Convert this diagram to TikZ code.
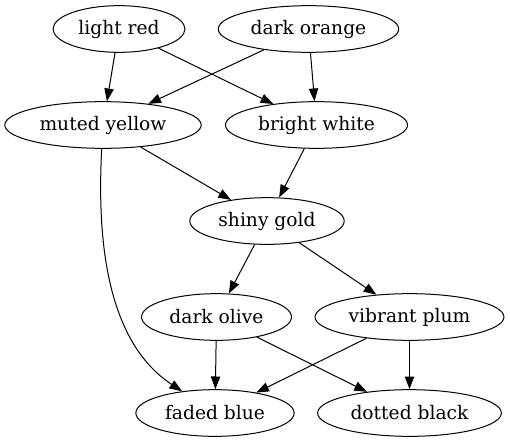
\documentclass[tikz,border=0pt]{standalone}
\usepackage{fontspec}
\setmainfont{DejaVu Serif}
\usetikzlibrary{shapes.geometric,arrows.meta}
\begin{document}
\begin{tikzpicture}[x=0.75pt,y=-0.75pt,>={Triangle[length=9.5pt,width=7pt]},line width=0.75pt,
        bag/.style={draw,ellipse,inner xsep=4.5pt,minimum height=35pt,font=\fontsize{14}{16}\selectfont},
        edge/.style={->}]
        \useasboundingbox (0,0) rectangle (510,443);
        \node[bag] (lr) at (119,29) {light red};
        \node[bag] (do) at (308.5,29) {dark orange};
        \node[bag] (my) at (103,125) {muted yellow};
        \node[bag] (bw) at (316.5,125) {bright white};
        \node[bag] (sg) at (267,221) {shiny gold};
        \node[bag] (dol) at (216.5,317) {dark olive};
        \node[bag] (vp) at (409.5,317) {vibrant plum};
        \node[bag] (fb) at (215,413) {faded blue};
        \node[bag] (db) at (409.5,413) {dotted black};
        \draw[edge] (lr) -- (my);
        \draw[edge] (lr) -- (bw);
        \draw[edge] (do) -- (my);
        \draw[edge] (do) -- (bw);
        \draw[edge] (my) -- (sg);
        \draw[edge] (bw) -- (sg);
        \draw[edge] (sg) -- (dol);
        \draw[edge] (sg) -- (vp);
        \draw[edge] (my) .. controls (96,255) and (112,345) .. (fb);
        \draw[edge] (dol) -- (fb);
        \draw[edge] (dol) -- (db);
        \draw[edge] (vp) -- (fb);
        \draw[edge] (vp) -- (db);
    \end{tikzpicture}
\end{document}
